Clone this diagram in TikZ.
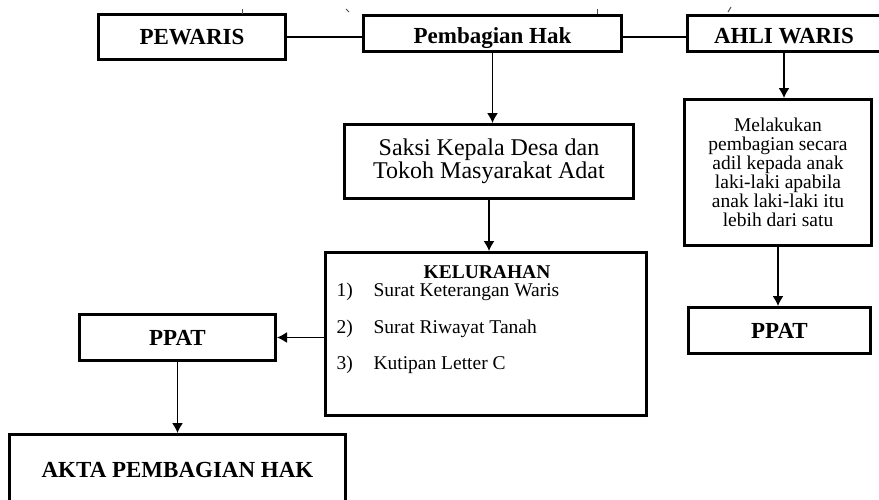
\documentclass[tikz,border=0pt]{standalone}
\usepackage{fontspec}
\setmainfont{Liberation Serif}
\usetikzlibrary{arrows.meta}

\tikzset{
  kotak/.style={draw, line width=3pt, inner sep=0pt, align=center},
  judul/.style={font=\fontsize{23}{25}\selectfont\bfseries},
  atas/.style={text height=19pt, text depth=0pt},
  isi/.style={font=\fontsize{19.5}{19}\selectfont},
  garis/.style={line width=1.4pt},
  panah/.style={line width=1.4pt, -{Latex[length=10pt,width=11pt]}},
  sisa/.style={line width=1pt, black!70}
}

\begin{document}
\begin{tikzpicture}[x=1pt,y=-1pt]
        \useasboundingbox (0,0) rectangle (879,499);
        \clip (0,0) rectangle (879,499);
        % baris atas
        \node [kotak, judul, minimum width=187pt, minimum height=45pt] (pewaris) at (192,37)    {PEWARIS};
        \node [kotak, judul, atas, minimum width=258pt, minimum height=36pt] (pembagian) at (492.5,33.5) {Pembagian Hak};
        \node [kotak, judul, atas, minimum width=194pt, minimum height=36pt] (ahli) at (784,33.5)     {AHLI WARIS};
        \draw [garis]  (pewaris.east) -- (pewaris.east -| pembagian.west);         %
        \draw [garis]  (pembagian.east |- pewaris.east) -- (ahli.west |- pewaris.east); %
        % sisa garis terpotong
        \draw [sisa]   (242,9) -- (242,14);
        \draw [sisa]   (346,9) -- (349,12);
        \draw [sisa]   (597,9) -- (597,14);
        \draw [sisa]   (728,12) -- (731,7);
        % jalur tengah
        \node [kotak, font=\fontsize{24}{22.5}\selectfont, minimum width=289pt, minimum height=74pt] (saksi) at (489,161.5)
              {Saksi Kepala Desa dan\\Tokoh Masyarakat Adat};
        \draw [panah]  (pembagian.south) -- (pembagian.south |- saksi.north);      %
        \node [kotak, minimum width=321pt, minimum height=163pt] (kelurahan) at (486,334) {};
        \draw [panah]  (saksi.south) -- (saksi.south |- kelurahan.north);          %
        \node [font=\fontsize{19.5}{20}\selectfont\bfseries, anchor=base] (kelhead) at (487,278) {KELURAHAN};
        \node [isi, anchor=base west] (no1) at (333,296) {1)};
        \node [isi, anchor=base west] (item1) at (370,296) {Surat Keterangan Waris};
        \node [isi, anchor=base west] (no2) at (333,333) {2)};
        \node [isi, anchor=base west] (item2) at (370,333) {Surat Riwayat Tanah};
        \node [isi, anchor=base west] (no3) at (333,369) {3)};
        \node [isi, anchor=base west] (item3) at (370,369) {Kutipan Letter C};
        % kiri bawah
        \node [kotak, judul, minimum width=196pt, minimum height=46pt] (ppatkiri) at (177.5,337.5) {PPAT};
        \draw [panah]  (kelurahan.west |- ppatkiri.east) -- (ppatkiri.east);       %
        \node [kotak, judul, minimum width=336pt, minimum height=71pt] (akta) at (177.5,470) {AKTA PEMBAGIAN HAK};
        \draw [panah]  (ppatkiri.south) -- (ppatkiri.south |- akta.north);         %
        % kanan
        \node [kotak, isi, minimum width=187pt, minimum height=146pt] (lakukan) at (778,172.5)
              {Melakukan\\pembagian secara\\adil kepada anak\\laki-laki apabila\\anak laki-laki itu\\lebih dari satu};
        \draw [panah]  (ahli.south) -- (ahli.south |- lakukan.north);              %
        \node [kotak, judul, minimum width=182pt, minimum height=46pt] (ppatkanan) at (779.5,330.5) {PPAT};
        \draw [panah]  (lakukan.south) -- (lakukan.south |- ppatkanan.north);      %
\end{tikzpicture}
\end{document}
